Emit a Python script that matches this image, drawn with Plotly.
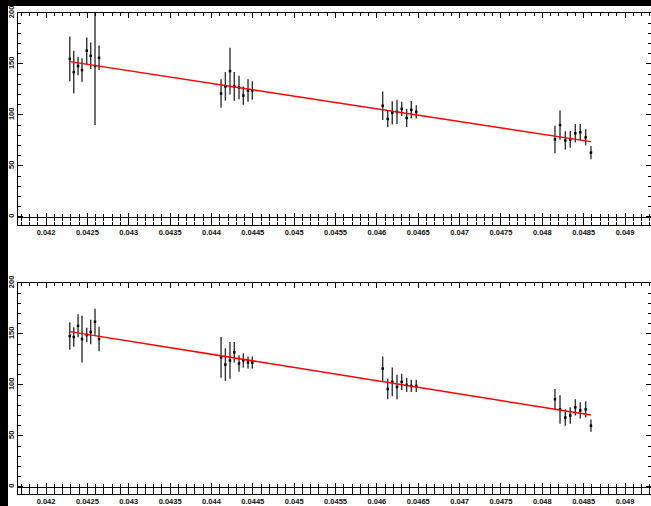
import plotly.graph_objects as go

# Wavelength-like abscissa for each measurement, four groups of eight
x_top = [0.042287, 0.042335, 0.042387, 0.042435, 0.042492, 0.042540, 0.042592, 0.042641,
         0.044116, 0.044168, 0.044224, 0.044276, 0.044333, 0.044385, 0.044442, 0.044494,
         0.046070, 0.046131, 0.046186, 0.046243, 0.046300, 0.046360, 0.046416, 0.046476,
         0.048153, 0.048214, 0.048278, 0.048338, 0.048399, 0.048459, 0.048524, 0.048588]
y_top = [155, 142, 148, 144, 163, 158, 148, 156,
         121, 128, 143, 128, 127, 119, 124, 124,
         109, 96, 102, 103, 106, 97, 105, 103,
         76, 90, 75, 76, 82, 83, 78, 63]
e_top = [22, 21, 9, 11.5, 13, 13, 58, 12,
         14, 14, 23, 14, 11.5, 9, 11, 9,
         14, 8, 11.5, 12, 7, 9, 8.6, 6.4,
         13.5, 14.4, 9, 8.3, 9, 8, 8, 6.6]
fit_top_x = [0.042287, 0.048588]
fit_top_y = [152.3, 73.8]

x_bot = x_top
y_bot = [148, 147, 158, 145, 149, 152, 162, 145,
         127, 120, 124, 132, 121, 124, 122, 122,
         116, 96, 103, 98, 103, 100, 99, 99,
         86, 76, 68, 70, 78, 75, 76, 60]
e_bot = [13.4, 9.5, 11.3, 22.9, 7, 12, 12.8, 12,
         20, 16, 18, 10, 8, 7, 6, 6,
         12, 10, 14, 12, 8, 7, 6, 6,
         10, 14, 8, 8, 8, 8, 8, 6]
fit_bot_x = [0.042287, 0.048588]
fit_bot_y = [152.3, 70.6]

x_range = [0.041661, 0.049314]
y_tick_vals = [0, 50, 100, 150, 200]
x_tick_vals = [0.042, 0.0425, 0.043, 0.0435, 0.044, 0.0445, 0.045,
               0.0455, 0.046, 0.0465, 0.047, 0.0475, 0.048, 0.0485, 0.049]
x_tick_text = ["0.042", "0.0425", "0.043", "0.0435", "0.044", "0.0445", "0.045",
               "0.0455", "0.046", "0.0465", "0.047", "0.0475", "0.048", "0.0485", "0.049"]

W, H = 651, 506
ML, MR, MT, MB = 18, 0, 13, 12
plot_h = H - MT - MB


def frac(py):
    return (H - MB - py) / plot_h


top_dom = [frac(225), 1.0]
bot_dom = [0.0, frac(283)]
top_rng = [-8, 200]
bot_rng = [-7, 200]

tick_font = dict(family="Liberation Sans", size=7.5, color="#111111", weight="bold")

fig = go.Figure()


def add_panel(xs, ys, es, fx, fy, xa, ya):
    fig.add_trace(go.Scatter(
        x=xs, y=ys, mode="markers", xaxis=xa, yaxis=ya,
        marker=dict(color="black", size=2.5, symbol="square"),
        error_y=dict(type="data", array=es, visible=True, color="#333333",
                     thickness=1.4, width=0),
        showlegend=False, hoverinfo="skip"))
    fig.add_trace(go.Scatter(
        x=fx, y=fy, mode="lines", xaxis=xa, yaxis=ya,
        line=dict(color="#ff0000", width=1.5),
        showlegend=False, hoverinfo="skip"))


add_panel(x_top, y_top, e_top, fit_top_x, fit_top_y, "x", "y")
add_panel(x_bot, y_bot, e_bot, fit_bot_x, fit_bot_y, "x2", "y2")

xaxis_common = dict(
    range=x_range, showgrid=False, zeroline=False, showline=True, linecolor="black",
    linewidth=1, mirror="ticks", ticks="inside", ticklen=5, tickwidth=1, tickcolor="black",
    tickvals=x_tick_vals, ticktext=x_tick_text, tickfont=tick_font, tickangle=0,
    minor=dict(dtick=0.0001, tick0=0.042, ticks="inside", ticklen=3, tickcolor="black",
               tickwidth=1, showgrid=False),
)
yaxis_common = dict(
    showgrid=False, zeroline=False, showline=True, linecolor="black", linewidth=1,
    mirror="ticks", ticks="inside", ticklen=5, tickwidth=1, tickcolor="black",
    tickvals=y_tick_vals, tickfont=tick_font, tickangle=-90,
    minor=dict(dtick=10, tick0=0, ticks="inside", ticklen=3, tickcolor="black",
               tickwidth=1, showgrid=False),
)

# secondary axes drawing the y = 0 baseline with ticks on both sides
zero_axis = dict(
    range=x_range, showgrid=False, zeroline=False, showline=True, linecolor="black",
    linewidth=1.2, tickvals=x_tick_vals, showticklabels=False, ticklen=4, tickwidth=1,
    tickcolor="black",
    minor=dict(dtick=0.0001, tick0=0.042, ticklen=3, tickcolor="black", tickwidth=1,
               showgrid=False),
)


def zero_pos(dom, rng):
    return dom[0] + (0 - rng[0]) / (rng[1] - rng[0]) * (dom[1] - dom[0])


fig.update_layout(
    width=W, height=H, margin=dict(l=ML, r=MR, t=MT, b=MB),
    paper_bgcolor="white", plot_bgcolor="white",
    xaxis=dict(xaxis_common, domain=[0, 1], anchor="y"),
    yaxis=dict(yaxis_common, domain=top_dom, range=top_rng, anchor="x"),
    xaxis2=dict(xaxis_common, domain=[0, 1], anchor="y2"),
    yaxis2=dict(yaxis_common, domain=bot_dom, range=bot_rng, anchor="x2"),
    xaxis3=dict(zero_axis, overlaying="x", anchor="free", side="bottom",
                position=zero_pos(top_dom, top_rng), ticks="outside"),
    xaxis4=dict(zero_axis, overlaying="x", anchor="free", side="top",
                position=zero_pos(top_dom, top_rng), ticks="outside"),
    xaxis5=dict(zero_axis, overlaying="x2", anchor="free", side="bottom",
                position=zero_pos(bot_dom, bot_rng), ticks="outside"),
    xaxis6=dict(zero_axis, overlaying="x2", anchor="free", side="top",
                position=zero_pos(bot_dom, bot_rng), ticks="outside"),
)

# invisible traces so the baseline axes are rendered
for xa, ya in [("x3", "y"), ("x4", "y"), ("x5", "y2"), ("x6", "y2")]:
    fig.add_trace(go.Scatter(x=[x_range[0]], y=[None], xaxis=xa, yaxis=ya,
                             mode="markers", showlegend=False, hoverinfo="skip"))

# black page border strips on the left and top edges
fig.add_shape(type="rect", xref="paper", yref="paper", layer="above",
              x0=-ML / (W - ML - MR), x1=-10 / (W - ML - MR), y0=-MB / plot_h,
              y1=(H - MB) / plot_h, fillcolor="black", line_width=0)
fig.add_shape(type="rect", xref="paper", yref="paper", layer="above",
              x0=-ML / (W - ML - MR), x1=1.0, y0=(H - MB - 6) / plot_h,
              y1=(H - MB) / plot_h, fillcolor="black", line_width=0)

fig.write_html("out.html")
